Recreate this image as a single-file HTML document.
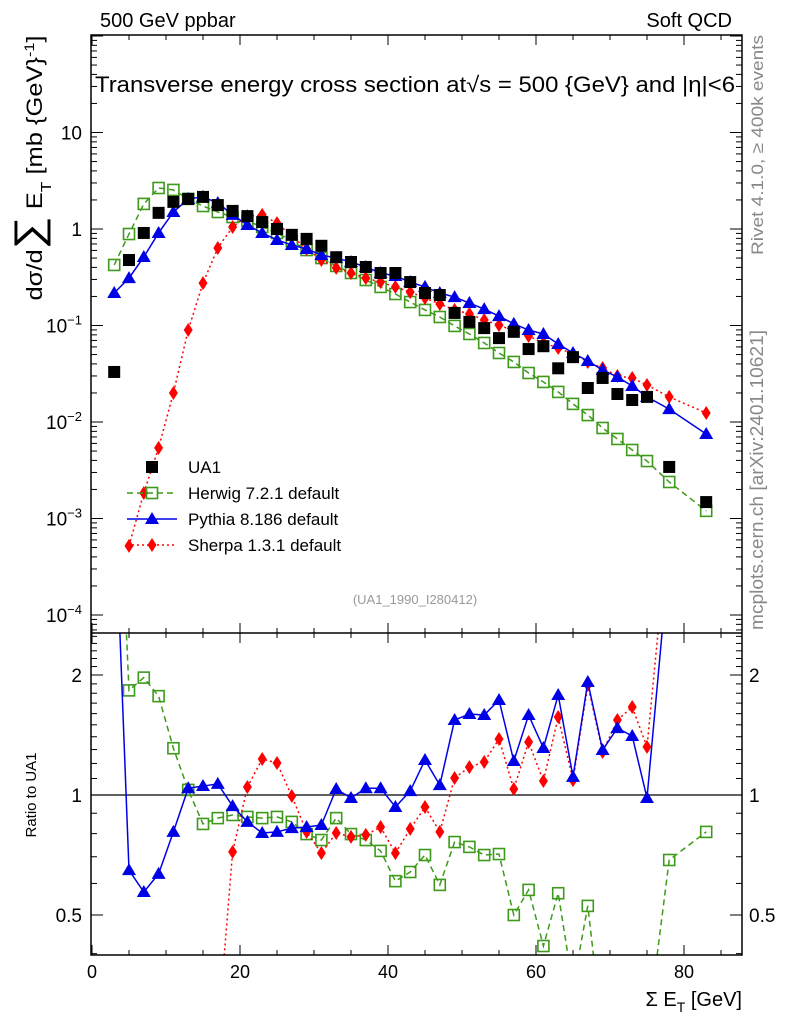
<!DOCTYPE html>
<html><head><meta charset="utf-8"><style>
html,body{margin:0;padding:0;background:#fff;width:786px;height:1024px;overflow:hidden;}
svg{display:block;font-family:"Liberation Sans",sans-serif;}
</style></head><body>
<svg id="chart" width="786" height="1024" viewBox="0 0 786 1024">
<defs>
<clipPath id="cMain"><rect x="91" y="35" width="651" height="598"/></clipPath>
<clipPath id="cRat"><rect x="91" y="633" width="651" height="322"/></clipPath>
</defs>
<text x="100" y="27" font-size="20">500 GeV ppbar</text>
<text x="732" y="27" font-size="20" text-anchor="end">Soft QCD</text>
<text x="95" y="92" font-size="22" textLength="640" lengthAdjust="spacingAndGlyphs">Transverse energy cross section at√s = 500 {GeV} and |η|&lt;6</text>
<text transform="translate(763,145) rotate(-90)" font-size="17" fill="#888" text-anchor="middle" textLength="220" lengthAdjust="spacingAndGlyphs">Rivet 4.1.0, ≥ 400k events</text>
<text transform="translate(763,480) rotate(-90)" font-size="18" fill="#888" text-anchor="middle" textLength="300" lengthAdjust="spacingAndGlyphs">mcplots.cern.ch [arXiv:2401.10621]</text>
<text transform="translate(42,168) rotate(-90)" font-size="22" text-anchor="middle" textLength="265" lengthAdjust="spacingAndGlyphs">dσ/d<tspan font-size="40">∑</tspan> E<tspan font-size="15" dy="9">T</tspan><tspan dy="-9"> [mb {GeV}</tspan><tspan font-size="14" dy="-8">-1</tspan><tspan dy="8">]</tspan></text>
<text transform="translate(36,795) rotate(-90)" font-size="15" text-anchor="middle">Ratio to UA1</text>
<text x="742" y="1006" font-size="20" text-anchor="end">Σ E<tspan font-size="14" dy="6">T</tspan><tspan dy="-6"> [GeV]</tspan></text>
<text x="415" y="604" font-size="13" fill="#999" text-anchor="middle">(UA1_1990_I280412)</text>
<g id="axes"></g>
<g id="mainMarks" clip-path="url(#cMain)"></g>
<g id="ratMarks" clip-path="url(#cRat)"></g>
<g id="legend"></g>
<rect x="91" y="35" width="651" height="920" fill="none" stroke="#000" stroke-width="1.5"/>
<line x1="91" y1="633" x2="742" y2="633" stroke="#000" stroke-width="1.5"/>
</svg>
<script>
const xs = [3,5,7,9,11,13,15,17,19,21,23,25,27,29,31,33,35,37,39,41,43,45,47,49,51,53,55,57,59,61,63,65,67,69,71,73,75,78,83];
const ua1 = [0.033,0.477,0.91,1.47,1.91,2.05,2.15,1.77,1.54,1.36,1.18,1.0,0.87,0.79,0.67,0.51,0.455,0.404,0.35,0.35,0.282,0.217,0.207,0.135,0.109,0.094,0.074,0.086,0.057,0.061,0.036,0.047,0.0225,0.0286,0.0195,0.0169,0.0182,0.00342,0.00148];
const herwig = [0.424,0.887,1.82,2.66,2.54,2.05,1.73,1.50,1.33,1.21,1.05,0.91,0.75,0.605,0.50,0.414,0.35,0.296,0.251,0.212,0.175,0.145,0.1225,0.099,0.0817,0.0659,0.0519,0.0419,0.0322,0.026,0.0205,0.0154,0.0118,0.00867,0.00667,0.00513,0.00394,0.00239,0.0012];
const pythia = [0.217,0.31,0.513,0.91,1.5,2.05,2.15,1.86,1.40,1.10,0.91,0.77,0.683,0.621,0.538,0.50,0.455,0.404,0.35,0.326,0.282,0.251,0.217,0.197,0.171,0.148,0.125,0.104,0.0898,0.0817,0.0643,0.0519,0.0429,0.0346,0.0293,0.0236,0.0182,0.0136,0.0075];
const sherpa = [null,0.00052,0.00184,0.0054,0.02,0.0898,0.275,0.635,1.05,1.36,1.40,1.15,0.846,0.621,0.477,0.395,0.35,0.31,0.282,0.251,0.222,0.193,0.167,0.145,0.132,0.114,0.101,0.0877,0.0778,0.0659,0.0585,0.0507,0.0419,0.0363,0.03,0.0286,0.0242,0.0182,0.0124];
const herwigRatio = [12,1.83,1.97,1.77,1.31,1.03,0.846,0.875,0.891,0.881,0.875,0.881,0.856,0.798,0.771,0.875,0.798,0.771,0.724,0.608,0.641,0.707,0.595,0.762,0.741,0.707,0.711,0.5,0.578,0.418,0.567,0.33,0.527,0.25,0.25,0.25,0.25,0.687,0.808];
const pythiaRatio = [6,0.648,0.571,0.634,0.808,1.04,1.053,1.066,0.938,0.856,0.803,0.808,0.826,0.831,0.841,1.035,0.983,1.04,1.04,0.933,1.023,1.224,1.059,1.542,1.597,1.587,1.731,1.217,1.587,1.312,1.782,1.11,1.921,1.297,1.472,1.406,0.983,4,5];
const sherpaRatio = [null,0.01,0.01,0.01,0.02,0.05,0.13,0.25,0.72,1.047,1.231,1.203,0.994,0.808,0.715,0.803,0.785,0.794,0.831,0.715,0.822,0.933,0.808,1.103,1.175,1.21,1.382,1.035,1.358,1.084,1.569,1.09,1.888,1.282,1.542,1.663,1.32,5,5];
const xTicks = [0,20,40,60,80];
const mainDecades = [-4,-3,-2,-1,0,1];
const ratioTicks = [0.5,1,2];

const NS="http://www.w3.org/2000/svg";
function X(v){return 92+v*7.4;}
function YM(v){return 229-Math.log10(v)*96.5;}
function YR(v){return 795-Math.log2(v)*120;}
function mk(tag,attrs,parent){const e=document.createElementNS(NS,tag);for(const k in attrs)e.setAttribute(k,attrs[k]);parent.appendChild(e);return e;}
const axes=document.getElementById('axes');
for(let v=0;v<=88;v+=5){
  const major=v%20===0, L=major?10:5, x=X(v);
  for(const [y0,dir] of [[35,1],[633,-1],[633,1],[955,-1]]){
    const t=mk('line',{x1:x,x2:x,y1:y0,y2:y0+dir*L,stroke:'#000','stroke-width':1},axes);
    
    
  }
}
xTicks.forEach(v=>{
  const t=mk('text',{x:X(v),y:978,'font-size':18,'text-anchor':'middle'},axes);
  t.textContent=String(v);
  
  
});
for(let d=-5;d<=2;d++){
  for(let m=1;m<10;m++){
    const v=m*Math.pow(10,d), y=YM(v);
    if(y<35||y>633)continue;
    const L=m===1?12:6;
    for(const [x0,dir] of [[91,1],[742,-1]]){
      const t=mk('line',{x1:x0,x2:x0+dir*L,y1:y,y2:y,stroke:'#000','stroke-width':1},axes);
      
      
    }
  }
}
mainDecades.forEach((d)=>{
  const y=YM(Math.pow(10,d));
  const t=mk('text',{x:82,y:y+7,'font-size':19,'text-anchor':'end'},axes);
  if(d===0){t.textContent='1';}
  else if(d===1){t.textContent='10';}
  else{t.textContent='10';const s=mk('tspan',{dy:-8,'font-size':13},t);s.textContent='−'+(-d);}
  
  
});
[0.4,0.5,0.6,0.7,0.8,0.9,1,1.1,1.2,1.3,1.4,1.5,1.6,1.7,1.8,1.9,2,2.1,2.2,2.3,2.4,2.5].forEach(v=>{
  const y=YR(v); if(y<633||y>955)return;
  const major=ratioTicks.includes(v), L=major?12:6;
  for(const [x0,dir] of [[91,1],[742,-1]]){
    const t=mk('line',{x1:x0,x2:x0+dir*L,y1:y,y2:y,stroke:'#000','stroke-width':1},axes);
    
    
  }
});
ratioTicks.forEach(v=>{
  const y=YR(v);
  for(const [x,a] of [[82,'end'],[749,'start']]){
    const t=mk('text',{x:x,y:y+7,'font-size':19,'text-anchor':a},axes);
    t.textContent=String(v);
    
    
  }
});
const ref=mk('line',{x1:91,x2:742,y1:YR(1),y2:YR(1),stroke:'#000','stroke-width':1.2},axes);



function marker(kind,x,y,parent){
  let e;
  if(kind==='square') e=mk('rect',{x:x-6,y:y-6,width:12,height:12,fill:'#000'},parent);
  else if(kind==='open') e=mk('rect',{x:x-5.5,y:y-5.5,width:11,height:11,fill:'none',stroke:'#3d9a1a','stroke-width':1.6},parent);
  else if(kind==='tri') e=mk('path',{d:`M${x},${y-7} L${x+7},${y+5} L${x-7},${y+5} Z`,fill:'#0000e6'},parent);
  else e=mk('path',{d:`M${x},${y-7} L${x+4.5},${y} L${x},${y+7} L${x-4.5},${y} Z`,fill:'#ff0000'},parent);
  return e;
}
const styles={
  herwig:{color:'#3d9a1a',dash:'6,4',m:'open'},
  pythia:{color:'#0000e6',dash:'',m:'tri'},
  sherpa:{color:'#ff0000',dash:'2,3',m:'dia'}
};
function series(vals,Y,st,parent,name){
  const g=mk('g',{},parent);
  
  
  let d='';
  vals.forEach((v,i)=>{ if(v==null)return; d+=(d?'L':'M')+X(xs[i])+','+Y(v)+' '; });
  const p=mk('path',{d:d,fill:'none',stroke:st.color,'stroke-width':1.5,'stroke-dasharray':st.dash},g);
  
  
  vals.forEach((v,i)=>{ if(v==null)return; const e=marker(st.m,X(xs[i]),Y(v),g);
    
     });
}
const mm=document.getElementById('mainMarks'), rm=document.getElementById('ratMarks');
series(herwig,YM,styles.herwig,mm,'herwig-series');
series(sherpa,YM,styles.sherpa,mm,'sherpa-series');
series(pythia,YM,styles.pythia,mm,'pythia-series');
const ug=mk('g',{},mm);


ua1.forEach((v,i)=>{const e=marker('square',X(xs[i]),YM(v),ug);
  
  });
series(herwigRatio,YR,styles.herwig,rm,'herwig-ratio');
series(sherpaRatio,YR,styles.sherpa,rm,'sherpa-ratio');
series(pythiaRatio,YR,styles.pythia,rm,'pythia-ratio');

const lg=document.getElementById('legend');
const entries=[['UA1',null,'square',467],['Herwig 7.2.1 default',styles.herwig,'open',493],['Pythia 8.186 default',styles.pythia,'tri',519],['Sherpa 1.3.1 default',styles.sherpa,'dia',545]];
entries.forEach(([lab,st,m,y])=>{
  const g=mk('g',{},lg);
  
  
  if(st) mk('line',{x1:127,x2:177,y1:y,y2:y,stroke:st.color,'stroke-width':1.5,'stroke-dasharray':st.dash},g);
  marker(m,152,y,g);
  const t=mk('text',{x:188,y:y+6,'font-size':17},g);
  t.textContent=lab;
});
</script>
</body></html>
